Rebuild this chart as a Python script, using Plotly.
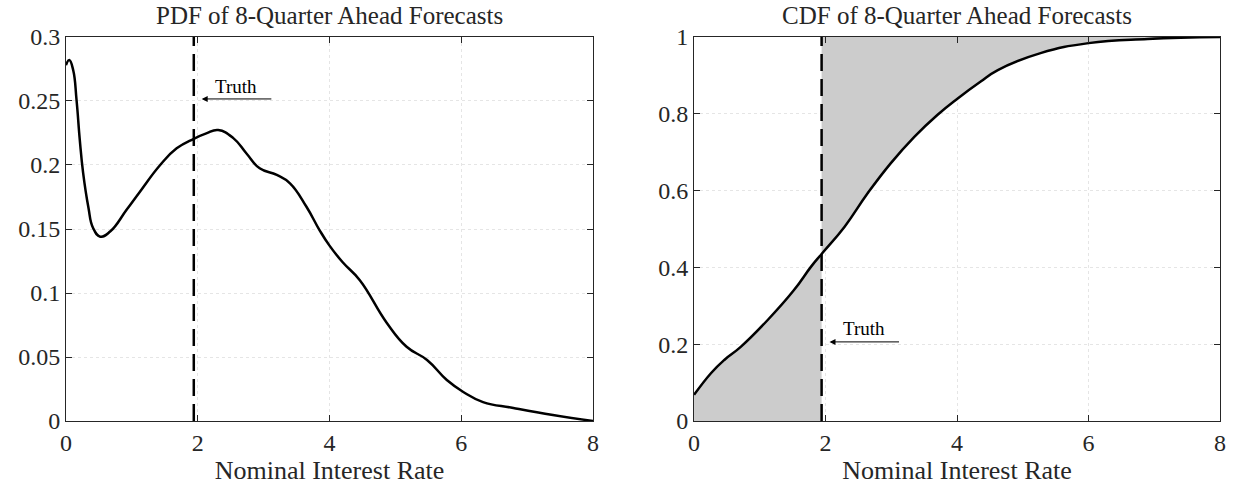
import numpy as np
import plotly.graph_objects as go
from plotly.subplots import make_subplots

# forecast density
pdf_x = [0.0, 0.05, 0.11, 0.16, 0.21, 0.26, 0.34, 0.41, 0.52, 0.67, 0.92, 1.12, 1.43, 1.68, 1.94,
         2.13, 2.31, 2.54, 2.74, 2.94, 3.2, 3.4, 3.65, 3.85, 4.0, 4.2, 4.46, 4.87, 5.17, 5.48,
         5.78, 6.03, 6.33, 6.79, 7.39, 8.0]
pdf_y = [0.278, 0.282, 0.274, 0.251, 0.2195, 0.194, 0.167, 0.151, 0.144, 0.148, 0.165, 0.179, 0.2,
         0.213, 0.2205, 0.2247, 0.2273, 0.221, 0.209, 0.1974, 0.1922, 0.1857, 0.1674, 0.149, 0.137,
         0.124, 0.110, 0.0766, 0.058, 0.0477, 0.032, 0.0227, 0.0148, 0.0102, 0.0047, 0.0]

# cumulative distribution
cdf_x = [0.0, 0.26, 0.46, 0.71, 1.12, 1.52, 1.78, 1.94, 2.29, 2.64, 2.99, 3.35, 3.7, 4.01, 4.36,
         4.62, 5.27, 6.0, 6.9, 8.0]
cdf_y = [0.068, 0.125, 0.159, 0.193, 0.263, 0.341, 0.402, 0.435, 0.506, 0.593, 0.671, 0.74, 0.797,
         0.84, 0.884, 0.914, 0.958, 0.984, 0.995, 1.0]

truth = 1.94
x_ticks = [0, 2, 4, 6, 8]
pdf_ticks = [0, 0.05, 0.1, 0.15, 0.2, 0.25, 0.3]
pdf_tick_text = ["0", "0.05", "0.1", "0.15", "0.2", "0.25", "0.3"]
cdf_ticks = [0, 0.2, 0.4, 0.6, 0.8, 1]
cdf_tick_text = ["0", "0.2", "0.4", "0.6", "0.8", "1"]

FONT = "Liberation Serif"
INK = "#262626"
SHADE = "rgb(204,204,204)"
CURVE = dict(color="black", width=2.5, shape="spline", smoothing=1.3)
DASH = dict(color="black", width=2.5, dash="17px,8px")

fig = make_subplots(rows=1, cols=2)

# left: density
fig.add_trace(go.Scatter(x=pdf_x, y=pdf_y, mode="lines", line=CURVE), row=1, col=1)
fig.add_trace(go.Scatter(x=[truth, truth], y=[0, 0.3], mode="lines", line=DASH), row=1, col=1)

# right: shaded cdf, below the truth and above the curve after it
cx = np.array(cdf_x)
cy = np.array(cdf_y)
low = cx <= truth
high = cx >= truth
fig.add_trace(go.Scatter(x=cx[low], y=cy[low], mode="lines", fill="tozeroy", fillcolor=SHADE,
                         line=dict(width=0, shape="spline", smoothing=1.3)), row=1, col=2)
fig.add_trace(go.Scatter(x=cx[high], y=np.ones(high.sum()), mode="lines", line=dict(width=0)), row=1, col=2)
fig.add_trace(go.Scatter(x=cx[high], y=cy[high], mode="lines", fill="tonexty", fillcolor=SHADE,
                         line=dict(width=0, shape="spline", smoothing=1.3)), row=1, col=2)
fig.add_trace(go.Scatter(x=cdf_x, y=cdf_y, mode="lines", line=CURVE), row=1, col=2)
fig.add_trace(go.Scatter(x=[truth, truth], y=[0, 1], mode="lines", line=DASH), row=1, col=2)

axis_style = dict(showline=True, linecolor=INK, linewidth=1, mirror="ticks", ticks="inside", ticklen=6,
                  tickcolor=INK, showgrid=True, gridcolor="rgba(0,0,0,0.10)", griddash="dot", gridwidth=1,
                  zeroline=False, automargin=False, tickfont=dict(family=FONT, size=24, color=INK))

fig.update_xaxes(axis_style, range=[0, 8], tickvals=x_ticks,
                 title=dict(text="Nominal Interest Rate", font=dict(family=FONT, size=26, color=INK), standoff=2))
fig.update_xaxes(domain=[0.0535, 0.481], row=1, col=1)
fig.update_xaxes(domain=[0.5629, 0.9895], row=1, col=2)
fig.update_yaxes(axis_style, domain=[0.1408, 0.9245])
fig.update_yaxes(range=[0, 0.3], tickvals=pdf_ticks, ticktext=pdf_tick_text, row=1, col=1)
fig.update_yaxes(range=[0, 1], tickvals=cdf_ticks, ticktext=cdf_tick_text, row=1, col=2)

# titles and the "Truth" markers
titles = ["PDF of 8-Quarter Ahead Forecasts", "CDF of 8-Quarter Ahead Forecasts"]
for t, cx_paper in zip(titles, [0.2673, 0.7762]):
    fig.add_annotation(text=t, x=cx_paper, y=0.999, xref="paper", yref="paper", showarrow=False,
                       font=dict(family=FONT, size=25, color=INK), xanchor="center", yanchor="top")

for xr, yr, ya, yt in [("x", "y", 0.2516, 0.261), ("x2", "y2", 0.206, 0.24)]:
    fig.add_annotation(text="", x=2.06, y=ya, ax=3.14, ay=ya, xref=xr, yref=yr, axref=xr, ayref=yr,
                       showarrow=True, arrowhead=2, arrowsize=1.2, arrowwidth=1, arrowcolor="black", standoff=0)
    fig.add_annotation(text="Truth", x=2.58, y=yt, xref=xr, yref=yr, showarrow=False,
                       font=dict(family=FONT, size=19, color="black"))

fig.update_layout(width=1233, height=490, margin=dict(l=0, r=0, t=0, b=0), showlegend=False,
                  plot_bgcolor="white", paper_bgcolor="white")

# drop the default page margin so the figure sits at the window corner
fig.write_html("out.html", config={"displayModeBar": False},
               post_script="document.body.style.margin = '0';")
